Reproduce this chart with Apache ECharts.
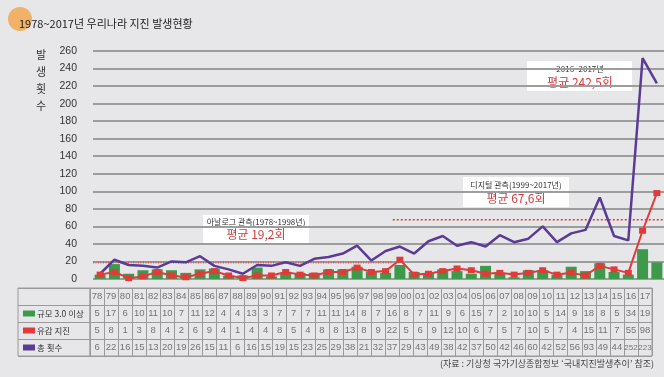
<!DOCTYPE html>
<html>
<head>
<meta charset="utf-8">
<script src="https://cdn.jsdelivr.net/npm/echarts@6/dist/echarts.min.js"></script>
<style>
html, body { margin: 0; padding: 0; background: #e7e7ea; }
#chart { width: 664px; height: 377px; }
</style>
</head>
<body>
<div id="chart"></div>
<script>
// 연도 (78 ~ 17)
var years = ['78','79','80','81','82','83','84','85','86','87','88','89','90','91','92','93','94','95','96','97',
	'98','99','00','01','02','03','04','05','06','07','08','09','10','11','12','13','14','15','16','17'];
// 규모 3.0 이상
var bigQuake = [5,17,6,10,11,10,7,11,12,4,4,13,3,7,7,7,11,11,14,8,7,16,8,7,11,9,6,15,7,2,10,10,5,14,9,18,8,5,34,19];
// 유감 지진
var feltQuake = [5,8,1,3,8,4,2,6,9,4,1,4,4,8,5,4,8,8,13,8,9,22,5,6,9,12,10,6,7,5,7,10,5,7,4,15,11,7,55,98];
// 총 횟수
var totalQuake = [6,22,16,15,13,20,19,26,15,11,6,16,15,19,15,23,25,29,38,21,32,37,29,43,49,38,42,37,50,42,46,60,42,52,56,93,49,44,252,223];
var rowNames = ['규모 3.0 이상', '유감 지진', '총 횟수'];
// 평균 (아날로그 / 디지털 / 최근)
var analogRange = ['78', '98'];
var digitalRange = ['99', '17'];
var analogAvg = 19.2;
var digitalAvg = 67.6;
var recentAvg = 242.5;
var yMin = 0, yMax = 260, yStep = 20;

var green = '#3d9a4a', red = '#e23a3a', purple = '#5b3b96';
var kr = '"Noto Sans CJK KR", sans-serif';
var num = '"Liberation Sans", "Noto Sans", sans-serif';

function avgLine (range, value) { //범위 양 끝(칸 가장자리)까지
	return [[years.indexOf(range[0]) - 0.5, value], [years.indexOf(range[1]) + 0.5, value]];
}
function fmt (v) {
	return String(v).replace('.', ',');
}

// 표 행: 머리(연도) + 세 계열
var tableRows = [years, bigQuake, feltQuake, totalQuake];
var tableCells = [];
tableRows.forEach(function (row, r) {
	row.forEach(function (v, i) {
		tableCells.push([i, r]);
	});
});

var myChart = echarts.init(document.getElementById('chart'));
var option = {
	backgroundColor: '#e7e7ea',
	animation: false,
	grid: [
		{ left: 93, right: 0, top: 51, bottom: 98, outerBoundsMode: 'none' },
		{ left: 90, right: 12, top: 288, height: 68, show: true, borderColor: '#9a9a9a', borderWidth: 1, outerBoundsMode: 'none' },
		{ left: 18, width: 72, top: 288, height: 68, show: true, borderColor: '#9a9a9a', borderWidth: 1, outerBoundsMode: 'none' }
	],
	xAxis: [
		{ type: 'category', gridIndex: 0, data: years, axisLine: { show: false }, axisTick: { show: false }, axisLabel: { show: false } },
		{ type: 'value', gridIndex: 0, min: -0.5, max: years.length - 0.5, show: false },
		{
			type: 'category', gridIndex: 1, data: years,
			axisLine: { show: false }, axisTick: { show: false },
			axisLabel: { show: false, interval: 0 },
			splitLine: { show: true, interval: 0, lineStyle: { color: '#9a9a9a', width: 1 } }
		},
		{ type: 'value', gridIndex: 2, show: false }
	],
	yAxis: [
		{
			type: 'value', gridIndex: 0, min: yMin, max: yMax, interval: yStep,
			axisLine: { show: false }, axisTick: { show: false },
			axisLabel: { margin: 16, color: '#333', fontSize: 10.5, fontFamily: num },
			splitLine: { lineStyle: { color: '#9d9d9d', width: 2 } }
		},
		{
			type: 'category', gridIndex: 1, inverse: true, data: [''].concat(rowNames),
			axisLine: { show: false }, axisTick: { show: false }, axisLabel: { show: false },
			splitLine: { show: true, interval: 0, lineStyle: { color: '#9a9a9a', width: 1 } }
		},
		{
			type: 'category', gridIndex: 2, inverse: true, data: [''].concat(rowNames),
			axisLine: { show: false }, axisTick: { show: false },
			splitLine: { show: true, interval: 0, lineStyle: { color: '#9a9a9a', width: 1 } },
			axisLabel: {
				inside: true, margin: 5, interval: 0, color: '#333', fontSize: 8.5, fontFamily: kr,
				formatter: function (v, i) {
					if (!v) return '';
					return '{s' + i + '|} ' + v;
				},
				rich: {
					s1: { width: 12, height: 6, backgroundColor: green },
					s2: { width: 12, height: 6, backgroundColor: red },
					s3: { width: 12, height: 6, backgroundColor: purple }
				}
			}
		}
	],
	series: [
		{
			name: rowNames[0], type: 'bar', xAxisIndex: 0, yAxisIndex: 0,
			barWidth: 11, itemStyle: { color: green }, data: bigQuake
		},
		{
			name: 'analog', type: 'line', xAxisIndex: 1, yAxisIndex: 0, symbol: 'none',
			lineStyle: { color: '#e25c5c', width: 2.5, type: [1, 1.5] }, data: avgLine(analogRange, analogAvg)
		},
		{
			name: 'digital', type: 'line', xAxisIndex: 1, yAxisIndex: 0, symbol: 'none',
			lineStyle: { color: '#e03a3a', width: 1.5, type: [2, 2] }, data: avgLine(digitalRange, digitalAvg)
		},
		{
			name: rowNames[2], type: 'line', xAxisIndex: 0, yAxisIndex: 0, symbol: 'none',
			lineStyle: { color: purple, width: 2.5 }, data: totalQuake
		},
		{
			name: rowNames[1], type: 'line', xAxisIndex: 0, yAxisIndex: 0,
			symbol: 'rect', symbolSize: [7, 6], showAllSymbol: true,
			lineStyle: { color: red, width: 2 }, itemStyle: { color: red }, data: feltQuake
		},
		{
			name: 'table', type: 'scatter', xAxisIndex: 2, yAxisIndex: 1,
			symbolSize: 1, itemStyle: { color: 'rgba(0,0,0,0)' },
			label: {
				show: true, position: 'inside', color: '#555', fontSize: 9.5, fontFamily: num,
				formatter: function (p) {
					var t = String(tableRows[p.value[1]][p.value[0]]);
					return t.length > 2 ? '{s|' + t + '}' : t; //세 자리는 좁게
				},
				rich: { s: { fontSize: 8, fontFamily: num, color: '#555' } }
			},
			data: tableCells
		}
	],
	graphic: [
		{ type: 'circle', shape: { cx: 20, cy: 19, r: 12 }, style: { fill: '#f0a850', opacity: 0.85 } },
		{ type: 'text', x: 19, y: 24, style: { text: '1978~2017년 우리나라 지진 발생현황', font: '11px ' + kr, fill: '#222', verticalAlign: 'middle' } },
		{ type: 'text', x: 41, y: 46, style: { text: '발\n생\n횟\n수', font: '11px ' + kr, fill: '#333', align: 'center', lineHeight: 17 } },

		{ type: 'rect', shape: { x: 203, y: 215, width: 106, height: 28 }, style: { fill: '#fff' } },
		{ type: 'text', x: 256, y: 222, style: { text: '아날로그 관측(1978~1998년)', font: '8px ' + kr, fill: '#333', align: 'center', verticalAlign: 'middle' } },
		{ type: 'text', x: 256, y: 234, style: { text: '평균 ' + fmt(analogAvg) + '회', font: '12px ' + kr, fill: '#d63a3e', align: 'center', verticalAlign: 'middle' } },

		{ type: 'rect', shape: { x: 463, y: 177, width: 106, height: 30 }, style: { fill: '#fff' } },
		{ type: 'text', x: 516, y: 185, style: { text: '디지털 관측(1999~2017년)', font: '8px ' + kr, fill: '#333', align: 'center', verticalAlign: 'middle' } },
		{ type: 'text', x: 516, y: 198, style: { text: '평균 ' + fmt(digitalAvg) + '회', font: '12px ' + kr, fill: '#d63a3e', align: 'center', verticalAlign: 'middle' } },

		{ type: 'rect', shape: { x: 527, y: 61, width: 105, height: 30 }, style: { fill: '#fff' } },
		{ type: 'text', x: 580, y: 69, style: { text: '2016~2017년', font: '8px ' + kr, fill: '#333', align: 'center', verticalAlign: 'middle' } },
		{ type: 'text', x: 580, y: 82, style: { text: '평균 ' + fmt(recentAvg) + '회', font: '12px ' + kr, fill: '#d63a3e', align: 'center', verticalAlign: 'middle' } },

		{ type: 'text', x: 654, y: 364, style: { text: '(자료 : 기상청 국가기상종합정보 ‘국내지진발생추이’ 참조)', font: '9px ' + kr, fill: '#444', align: 'right', verticalAlign: 'middle' } }
	]
};
myChart.setOption(option);
</script>
</body>
</html>
